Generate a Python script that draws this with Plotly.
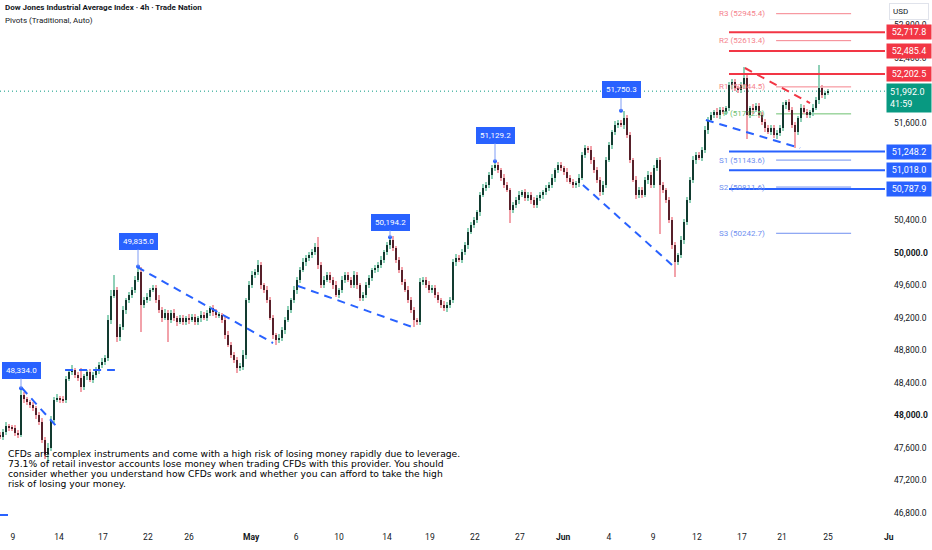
import plotly.graph_objects as go

# Dow Jones CFD, 4h bars (one value per candle, left to right)
first_open = 47760
closes = [
    47735, 47800, 47870, 47850, 47840, 47790, 47760, 48250, 48200, 48160,
    48130, 48090, 48000, 47920, 47700, 47520, 47600, 47950, 48190, 48215,
    48200, 48190, 48450, 48540, 48560, 48500, 48460, 48350, 48480, 48530,
    48440, 48500, 48560, 48620, 48660, 48710, 49175, 49470, 49545, 48960,
    49090, 49300, 49420, 49485, 49545, 49670, 49765, 49360, 49420, 49460,
    49545, 49570, 49420, 49300, 49200, 49260, 49175, 49260, 49200, 49150,
    49200, 49150, 49200, 49175, 49210, 49150, 49200, 49235, 49200, 49260,
    49320, 49270, 49235, 49235, 49175, 48990, 48870, 48745, 48685, 48585,
    48600, 48745, 49420, 49605, 49730, 49765, 49850, 49605, 49545, 49420,
    49200, 48990, 48930, 48955, 49050, 49175, 49300, 49420, 49545, 49670,
    49790, 49890, 49940, 49975, 50010, 50075, 49850, 49605, 49670, 49730,
    49670, 49605, 49485, 49545, 49670, 49730, 49670, 49605, 49730, 49605,
    49445, 49485, 49605, 49690, 49790, 49815, 49850, 49915, 50010, 50100,
    50160, 50060, 49915, 49790, 49645, 49545, 49420, 49300, 49175, 49150,
    49645, 49670, 49605, 49545, 49570, 49485, 49420, 49360, 49320, 49360,
    49420, 49890, 49940, 49915, 50010, 50100, 50260, 50345, 50405, 50505,
    50715, 50800, 50840, 50960, 51045, 51085, 51020, 50925, 50840, 50775,
    50530, 50590, 50650, 50715, 50750, 50675, 50715, 50650, 50590, 50675,
    50715, 50750, 50800, 50840, 50925, 51020, 51085, 51045, 51000, 50925,
    50875, 50840, 50860, 50925, 51205, 51290, 51270, 51145, 51020, 50900,
    50750, 50840, 51145, 51330, 51490, 51575, 51600, 51575, 51660, 51450,
    51145, 50900, 50715, 50775, 50715, 50900, 50960, 50840, 51045, 51145,
    50840, 50775, 50650, 50405, 50100, 49890, 49975, 50160, 50380, 50650,
    50900, 51145, 51205, 51170, 51270, 51515, 51640, 51700, 51735, 51700,
    51760, 51735, 51785, 52065, 52105, 52030, 52005, 52065, 52155, 51700,
    51785, 51760, 51810, 51700, 51610, 51540, 51490, 51540, 51450, 51475,
    51540, 51820, 51855, 51760, 51575, 51490, 51660, 51785, 51735, 51700,
    51735, 51785, 51880, 52030, 51945, 51970, 51992,
]
# wick lengths in points above the body top / below the body bottom
upper_wicks = [
    40, 30, 50, 25, 35, 40, 30, 84, 45, 30,
    35, 40, 30, 45, 50, 30, 60, 40, 35, 50,
    30, 45, 40, 35, 60, 30, 40, 120, 35, 30,
    45, 30, 40, 35, 50, 30, 60, 80, 185, 40,
    35, 45, 30, 40, 35, 50, 70, 60, 40, 45,
    30, 40, 35, 60, 30, 45, 40, 35, 50, 30,
    40, 35, 30, 45, 40, 35, 30, 50, 35, 40,
    30, 45, 35, 40, 30, 35, 45, 30, 40, 35,
    40, 60, 30, 45, 50, 35, 65, 40, 30, 45,
    35, 40, 30, 45, 40, 35, 50, 30, 45, 40,
    35, 45, 30, 40, 35, 50, 120, 40, 45, 30,
    40, 35, 50, 30, 45, 35, 40, 30, 45, 35,
    30, 40, 35, 45, 30, 40, 35, 50, 30, 40,
    34, 45, 30, 40, 35, 30, 45, 40, 35, 30,
    50, 40, 35, 45, 30, 40, 35, 30, 45, 35,
    40, 30, 45, 35, 40, 30, 45, 35, 40, 30,
    35, 45, 30, 40, 35, 44, 40, 30, 45, 35,
    30, 40, 35, 45, 30, 40, 35, 30, 45, 40,
    35, 30, 40, 35, 45, 30, 40, 35, 30, 45,
    40, 35, 30, 45, 35, 40, 30, 45, 35, 40,
    30, 45, 35, 40, 30, 45, 35, 40, 90, 35,
    40, 30, 45, 35, 40, 30, 45, 35, 40, 30,
    35, 40, 30, 45, 35, 40, 30, 45, 35, 40,
    30, 45, 35, 40, 30, 45, 35, 40, 30, 45,
    35, 40, 30, 45, 35, 40, 30, 45, 135, 40,
    30, 45, 35, 40, 30, 45, 35, 40, 30, 45,
    35, 40, 30, 45, 35, 40, 30, 45, 35, 40,
    30, 45, 35, 285, 40, 30, 25,
]
lower_wicks = [
    30, 40, 35, 45, 30, 40, 35, 30, 45, 35,
    40, 30, 45, 35, 40, 50, 105, 35, 40, 30,
    45, 35, 40, 30, 45, 35, 40, 60, 35, 45,
    30, 40, 35, 45, 30, 40, 35, 45, 30, 60,
    40, 35, 45, 30, 40, 35, 30, 330, 40, 35,
    45, 30, 40, 35, 45, 30, 275, 40, 35, 45,
    30, 40, 35, 45, 30, 40, 35, 45, 30, 40,
    35, 45, 30, 40, 35, 45, 30, 40, 35, 65,
    40, 35, 45, 30, 40, 35, 30, 45, 35, 40,
    30, 45, 60, 40, 35, 45, 30, 40, 35, 45,
    40, 30, 45, 35, 40, 30, 45, 35, 40, 30,
    35, 45, 30, 40, 35, 45, 30, 40, 35, 45,
    40, 35, 45, 30, 40, 35, 45, 30, 40, 35,
    45, 30, 40, 35, 45, 30, 40, 35, 85, 40,
    35, 45, 30, 40, 35, 45, 30, 40, 35, 45,
    40, 35, 45, 30, 40, 35, 45, 30, 40, 35,
    45, 30, 40, 35, 45, 30, 40, 35, 45, 30,
    160, 40, 35, 45, 30, 40, 35, 45, 30, 40,
    35, 45, 30, 40, 35, 45, 30, 40, 35, 45,
    30, 40, 35, 45, 30, 40, 35, 45, 30, 40,
    45, 35, 40, 30, 45, 35, 40, 30, 45, 35,
    40, 30, 45, 35, 40, 30, 45, 35, 40, 30,
    600, 35, 40, 30, 45, 190, 40, 35, 45, 30,
    40, 35, 45, 30, 40, 35, 45, 30, 40, 35,
    45, 30, 40, 35, 45, 30, 40, 35, 45, 300,
    35, 45, 30, 40, 35, 45, 30, 40, 35, 45,
    40, 35, 45, 30, 40, 200, 35, 45, 30, 40,
    35, 45, 30, 40, 35, 45, 30,
]

# time axis (bar index where each date label sits)
tick_bars = [4.3, 19.7, 34.3, 49.3, 63, 83.7, 98.7, 113, 129, 143.3,
             158.3, 173.3, 187.7, 203, 217.7, 232.3, 247.3, 260.7, 276]
tick_labels = ["9", "14", "17", "22", "26", "<b>May</b>", "6", "10", "14", "19",
               "22", "27", "<b>Jun</b>", "4", "9", "12", "17", "21", "25"]
price_ticks = [46800, 47200, 47600, 48000, 48400, 48800, 49200, 49600,
               50000, 50400, 50800, 51200, 51600, 52000, 52400, 52800]

last_price = 51992.0
countdown = "41:59"
red_levels = [52717.8, 52485.4, 52202.5]
blue_levels = [51248.2, 51018.0, 50787.9]
pivot_names = ["R3", "R2", "R1", "P", "S1", "S2", "S3"]
pivot_values = [52945.4, 52613.4, 52044.5, 51712.5, 51143.6, 50811.6, 50242.7]
callout_bars = [7, 46, 130, 165, 207]
callout_values = [48334.0, 49835.0, 50194.2, 51129.2, 51750.3]

# drawn trendlines: (bar0, price0, bar1, price1)
blue_trends = [
    (7.3, 48338, 19, 47858),
    (21.7, 48560, 38.3, 48560),
    (45.7, 49828, 91, 48892),
    (99.3, 49594, 138.3, 49077),
    (194.3, 50837, 224, 49852),
    (235.3, 51637, 266.7, 51292),
    (0, 46775, 2.7, 46775),
]
red_trends = [(248.3, 52277, 270, 51846)]

disclaimer = [
    "CFDs are complex instruments and come with a high risk of losing money rapidly due to leverage.",
    "73.1% of retail investor accounts lose money when trading CFDs with this provider. You should",
    "consider whether you understand how CFDs work and whether you can afford to take the high",
    "risk of losing your money.",
]

opens = [first_open] + closes[:-1]
idx = list(range(len(closes)))
highs = [max(o, c) + u for o, c, u in zip(opens, closes, upper_wicks)]
lows = [min(o, c) - d for o, c, d in zip(opens, closes, lower_wicks)]
up = [c >= o for o, c in zip(opens, closes)]

X_END = 295
Y_RANGE = [46652, 53114]
FONT = "Roboto, Liberation Sans, sans-serif"
TXT = "#131722"

fig = go.Figure()
# wicks (light) then bodies (dark) on top
fig.add_trace(go.Bar(
    x=idx, y=[h - l for h, l in zip(highs, lows)], base=lows, width=0.4,
    marker=dict(color=["#8fd0b7" if u else "#f2a2aa" for u in up], line_width=0),
    hoverinfo="skip"))
fig.add_trace(go.Bar(
    x=idx, y=[max(abs(c - o), 10) for o, c in zip(opens, closes)],
    base=[min(o, c) for o, c in zip(opens, closes)], width=0.78,
    marker=dict(color=["#123b30" if u else "#58202a" for u in up], line_width=0),
    hoverinfo="skip"))
# callout dots
fig.add_trace(go.Scatter(x=callout_bars, y=callout_values, mode="markers",
                         marker=dict(size=4, color="#2962ff"), hoverinfo="skip"))

shapes = []
shapes.append(dict(type="line", xref="x", yref="y", x0=0, x1=X_END, y0=last_price, y1=last_price,
                   line=dict(color="#089981", width=1, dash="1px,3px"), layer="below"))
pivot_colors = {"R": "#f5828c", "P": "#6cc070", "S": "#6f8ff0"}
for name, v in zip(pivot_names, pivot_values):
    shapes.append(dict(type="line", xref="x", yref="y", x0=258.7, x1=283.7, y0=v, y1=v,
                       line=dict(color=pivot_colors[name[0]], width=1), layer="below"))
for v in red_levels:
    shapes.append(dict(type="line", xref="x", yref="y", x0=243, x1=X_END, y0=v, y1=v,
                       line=dict(color="#f23645", width=2)))
for v in blue_levels:
    shapes.append(dict(type="line", xref="x", yref="y", x0=243, x1=X_END, y0=v, y1=v,
                       line=dict(color="#2962ff", width=2)))
for x0, y0, x1, y1 in blue_trends:
    shapes.append(dict(type="line", xref="x", yref="y", x0=x0, y0=y0, x1=x1, y1=y1,
                       line=dict(color="#2962ff", width=2, dash="8px,6px")))
for x0, y0, x1, y1 in red_trends:
    shapes.append(dict(type="line", xref="x", yref="y", x0=x0, y0=y0, x1=x1, y1=y1,
                       line=dict(color="#f23645", width=2, dash="8px,6px")))

ann = []
ann.append(dict(xref="paper", yref="paper", x=0, y=1, xshift=3, yshift=-1, xanchor="left", yanchor="top",
                text="<b>Dow Jones Industrial Average Index · 4h · Trade Nation</b>", showarrow=False,
                font=dict(family=FONT, size=8, color=TXT)))
ann.append(dict(xref="paper", yref="paper", x=0, y=1, xshift=3, yshift=-14, xanchor="left", yanchor="top",
                text="Pivots (Traditional, Auto)", showarrow=False,
                font=dict(family=FONT, size=8, color=TXT)))
for name, v in zip(pivot_names, pivot_values):
    ann.append(dict(xref="x", yref="y", x=255.7, y=v, xanchor="right", yanchor="middle",
                    text=f"{name} ({v})", showarrow=False,
                    font=dict(family=FONT, size=8, color=pivot_colors[name[0]])))
for b, v in zip(callout_bars, callout_values):
    ay = {7: -18, 46: -25, 130: -15, 165: -26, 207: -21}[b]
    ann.append(dict(xref="x", yref="y", x=b, y=v, text=f"{v:,.1f}", showarrow=True,
                    arrowhead=0, arrowwidth=1, arrowcolor="#7f9cf5", ax=0, ay=ay,
                    bgcolor="#2962ff", bordercolor="#2962ff", borderpad=3,
                    font=dict(family=FONT, size=8, color="white")))
for v, col in [(v, "#f23645") for v in red_levels] + [(v, "#2962ff") for v in blue_levels]:
    ann.append(dict(xref="paper", yref="y", x=1, y=v, xshift=1, xanchor="left", yanchor="middle",
                    text=f"{v:,.1f}", showarrow=False, bgcolor=col, borderpad=2, width=40,
                    font=dict(family=FONT, size=9, color="white")))
ann.append(dict(xref="paper", yref="y", x=1, y=last_price, xshift=1, yshift=8, xanchor="left",
                yanchor="top", text=f"{last_price:,.1f}<br>{countdown}", align="left",
                showarrow=False, bgcolor="#089981", borderpad=3, width=38,
                font=dict(family=FONT, size=9, color="white")))
ann.append(dict(xref="paper", yref="paper", x=1, y=1, xshift=4, yshift=-3, xanchor="left",
                yanchor="top", text="USD", align="left", showarrow=False, bgcolor="white",
                bordercolor="#e0e3eb", borderwidth=1, borderpad=3, width=32,
                font=dict(family=FONT, size=8, color=TXT)))
ann.append(dict(xref="paper", yref="paper", x=1, y=0, xshift=4, yshift=-12, xanchor="center",
                yanchor="middle", text="<b>Ju</b>", showarrow=False,
                font=dict(family=FONT, size=8.5, color=TXT)))
for i, line in enumerate(disclaimer):
    ann.append(dict(xref="paper", yref="paper", x=0, y=1 - (453 + 10 * i) / 525, xshift=6,
                    xanchor="left", yanchor="middle", text=line, showarrow=False,
                    font=dict(family="DejaVu Sans", size=9.2, color="#000000")))

fig.update_layout(
    width=932, height=550, margin=dict(l=0, r=47, t=0, b=25),
    paper_bgcolor="white", plot_bgcolor="white", showlegend=False,
    barmode="overlay", bargap=0, shapes=shapes, annotations=ann,
    xaxis=dict(range=[0, X_END], tickvals=tick_bars, ticktext=tick_labels, showgrid=False,
               zeroline=False, showline=False, ticks="", automargin=False,
               ticklabelstandoff=5, tickfont=dict(family=FONT, size=8.5, color=TXT)),
    yaxis=dict(range=Y_RANGE, side="right", tickvals=price_ticks,
               ticktext=[f"<b>{p:,.1f}</b>" if p % 2000 == 0 else f"{p:,.1f}" for p in price_ticks],
               showgrid=False, zeroline=False, showline=False, ticks="", automargin=False,
               ticklabelstandoff=8, tickfont=dict(family=FONT, size=8.5, color=TXT)),
)

# page margin off so the chart sits at the window's top-left corner
fig.write_html("out.html", config={"displayModeBar": False},
               post_script="document.body.style.margin='0';")
